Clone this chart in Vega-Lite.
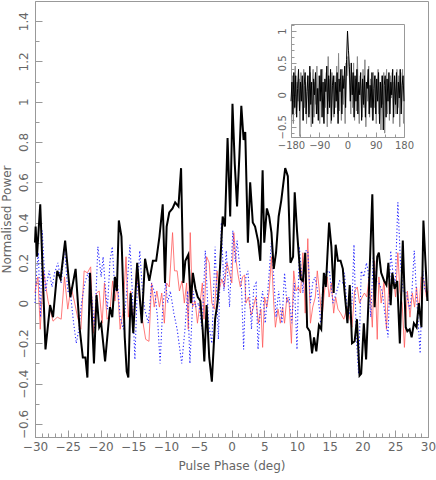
{
"$schema": "https://vega.github.io/schema/vega-lite/v6.json",
"width": 393, "height": 436,
"autosize": {"type": "none"},
"padding": {"left": 35, "top": 1, "right": 8, "bottom": 43},
"background": "white",
"config": {
 "view": {"stroke": "#999", "strokeWidth": 1},
 "axis": {"grid": false, "domainColor": "#999", "tickColor": "#999", "labelColor": "#666", "titleColor": "#666", "labelFont": "DejaVu Sans", "titleFont": "DejaVu Sans", "titleFontWeight": "normal", "labelFontSize": 12, "titleFontSize": 12, "labelFlush": false, "labelOverlap": false}
},
"datasets": {
"main": [
{"s":"black","x":-30.0,"y":0.30},{"s":"black","x":-29.9,"y":0.38},{"s":"black","x":-29.7,"y":0.23},{"s":"black","x":-29.2,"y":0.49},{"s":"black","x":-28.4,"y":-0.23},{"s":"black","x":-27.7,"y":-0.01},{"s":"black","x":-27.25,"y":-0.07},{"s":"black","x":-26.6,"y":0.16},{"s":"black","x":-26.1,"y":0.12},{"s":"black","x":-25.4,"y":0.31},{"s":"black","x":-24.6,"y":0.03},{"s":"black","x":-23.8,"y":0.17},{"s":"black","x":-23.2,"y":-0.12},{"s":"black","x":-22.7,"y":-0.27},{"s":"black","x":-22.3,"y":-0.27},{"s":"black","x":-22.0,"y":-0.37},{"s":"black","x":-21.6,"y":0.15},{"s":"black","x":-21.0,"y":-0.30},{"s":"black","x":-20.6,"y":0.04},{"s":"black","x":-20.2,"y":-0.12},{"s":"black","x":-19.9,"y":-0.10},{"s":"black","x":-19.3,"y":-0.29},{"s":"black","x":-18.55,"y":-0.02},{"s":"black","x":-18.2,"y":-0.07},{"s":"black","x":-17.8,"y":0.13},{"s":"black","x":-17.5,"y":0.06},{"s":"black","x":-17.2,"y":0.41},{"s":"black","x":-16.8,"y":0.33},{"s":"black","x":-16.3,"y":-0.17},{"s":"black","x":-16.0,"y":-0.34},{"s":"black","x":-15.75,"y":-0.37},{"s":"black","x":-15.4,"y":0.05},{"s":"black","x":-15.0,"y":-0.15},{"s":"black","x":-14.4,"y":0.20},{"s":"black","x":-13.7,"y":-0.10},{"s":"black","x":-13.2,"y":0.22},{"s":"black","x":-12.55,"y":0.11},{"s":"black","x":-12.0,"y":0.21},{"s":"black","x":-11.5,"y":0.21},{"s":"black","x":-11.0,"y":0.33},{"s":"black","x":-10.5,"y":0.49},{"s":"black","x":-10.15,"y":0.10},{"s":"black","x":-9.9,"y":0.38},{"s":"black","x":-9.5,"y":0.45},{"s":"black","x":-9.0,"y":0.47},{"s":"black","x":-8.6,"y":0.50},{"s":"black","x":-8.1,"y":0.48},{"s":"black","x":-7.7,"y":0.67},{"s":"black","x":-7.35,"y":0.10},{"s":"black","x":-7.05,"y":0.21},{"s":"black","x":-6.6,"y":0.24},{"s":"black","x":-6.2,"y":0.0},{"s":"black","x":-5.9,"y":0.15},{"s":"black","x":-5.5,"y":0.07},{"s":"black","x":-5.15,"y":0.03},{"s":"black","x":-4.75,"y":0.01},{"s":"black","x":-4.4,"y":-0.13},{"s":"black","x":-4.15,"y":-0.29},{"s":"black","x":-3.8,"y":-0.01},{"s":"black","x":-3.4,"y":-0.27},{"s":"black","x":-3.0,"y":-0.39},{"s":"black","x":-2.5,"y":-0.08},{"s":"black","x":-2.1,"y":0.01},{"s":"black","x":-1.75,"y":0.18},{"s":"black","x":-1.35,"y":0.43},{"s":"black","x":-1.0,"y":0.38},{"s":"black","x":-0.6,"y":0.82},{"s":"black","x":-0.2,"y":0.43},{"s":"black","x":0.15,"y":0.99},{"s":"black","x":0.5,"y":0.69},{"s":"black","x":0.85,"y":0.48},{"s":"black","x":1.2,"y":0.73},{"s":"black","x":1.5,"y":0.98},{"s":"black","x":1.85,"y":0.81},{"s":"black","x":2.1,"y":0.85},{"s":"black","x":2.5,"y":0.30},{"s":"black","x":2.85,"y":0.60},{"s":"black","x":3.25,"y":0.40},{"s":"black","x":3.6,"y":0.38},{"s":"black","x":4.05,"y":0.31},{"s":"black","x":4.4,"y":0.21},{"s":"black","x":4.75,"y":0.66},{"s":"black","x":5.0,"y":0.30},{"s":"black","x":5.4,"y":0.47},{"s":"black","x":5.75,"y":0.43},{"s":"black","x":6.1,"y":0.35},{"s":"black","x":6.45,"y":0.17},{"s":"black","x":6.8,"y":0.25},{"s":"black","x":7.2,"y":0.43},{"s":"black","x":7.6,"y":0.51},{"s":"black","x":8.2,"y":0.67},{"s":"black","x":8.6,"y":0.63},{"s":"black","x":9.0,"y":0.20},{"s":"black","x":9.4,"y":0.23},{"s":"black","x":9.65,"y":0.55},{"s":"black","x":10.0,"y":0.36},{"s":"black","x":10.55,"y":0.12},{"s":"black","x":10.9,"y":0.11},{"s":"black","x":11.25,"y":0.25},{"s":"black","x":11.55,"y":-0.12},{"s":"black","x":11.95,"y":-0.14},{"s":"black","x":12.3,"y":-0.25},{"s":"black","x":12.6,"y":-0.17},{"s":"black","x":12.95,"y":-0.24},{"s":"black","x":13.35,"y":-0.11},{"s":"black","x":13.7,"y":-0.13},{"s":"black","x":14.1,"y":0.15},{"s":"black","x":14.4,"y":0.08},{"s":"black","x":14.9,"y":0.40},{"s":"black","x":15.25,"y":0.28},{"s":"black","x":15.6,"y":0.05},{"s":"black","x":15.9,"y":0.29},{"s":"black","x":16.25,"y":0.21},{"s":"black","x":16.65,"y":0.21},{"s":"black","x":17.0,"y":0.17},{"s":"black","x":17.25,"y":0.06},{"s":"black","x":17.7,"y":-0.10},{"s":"black","x":18.05,"y":0.09},{"s":"black","x":18.4,"y":-0.20},{"s":"black","x":18.8,"y":-0.19},{"s":"black","x":19.15,"y":-0.08},{"s":"black","x":19.55,"y":-0.36},{"s":"black","x":19.8,"y":-0.35},{"s":"black","x":20.2,"y":-0.10},{"s":"black","x":20.55,"y":-0.28},{"s":"black","x":21.0,"y":0.08},{"s":"black","x":21.5,"y":0.54},{"s":"black","x":21.85,"y":-0.02},{"s":"black","x":22.25,"y":0.23},{"s":"black","x":22.5,"y":0.25},{"s":"black","x":22.85,"y":0.15},{"s":"black","x":23.3,"y":0.11},{"s":"black","x":23.65,"y":0.09},{"s":"black","x":23.95,"y":0.20},{"s":"black","x":24.3,"y":-0.01},{"s":"black","x":24.55,"y":0.15},{"s":"black","x":24.9,"y":0.07},{"s":"black","x":25.3,"y":0.11},{"s":"black","x":25.7,"y":-0.20},{"s":"black","x":26.15,"y":0.31},{"s":"black","x":26.6,"y":-0.12},{"s":"black","x":26.85,"y":-0.14},{"s":"black","x":27.2,"y":-0.13},{"s":"black","x":27.5,"y":-0.17},{"s":"black","x":27.85,"y":-0.10},{"s":"black","x":28.25,"y":-0.12},{"s":"black","x":28.6,"y":0.0},{"s":"black","x":29.0,"y":-0.12},{"s":"black","x":29.3,"y":0.41},{"s":"black","x":29.65,"y":0.18},{"s":"black","x":29.9,"y":0.01},
{"s":"red","x":-30.0,"y":0.05},{"s":"red","x":-29.9,"y":0.08},{"s":"red","x":-29.55,"y":0.13},{"s":"red","x":-29.2,"y":-0.13},{"s":"red","x":-28.7,"y":0.16},{"s":"red","x":-28.0,"y":0.01},{"s":"red","x":-27.25,"y":-0.09},{"s":"red","x":-26.6,"y":-0.07},{"s":"red","x":-26.0,"y":-0.08},{"s":"red","x":-25.5,"y":0.13},{"s":"red","x":-25.0,"y":-0.03},{"s":"red","x":-24.5,"y":0.08},{"s":"red","x":-24.0,"y":0.01},{"s":"red","x":-23.5,"y":-0.07},{"s":"red","x":-23.0,"y":-0.13},{"s":"red","x":-22.5,"y":0.16},{"s":"red","x":-22.0,"y":0.15},{"s":"red","x":-21.5,"y":0.18},{"s":"red","x":-21.1,"y":-0.15},{"s":"red","x":-20.6,"y":0.05},{"s":"red","x":-20.2,"y":0.06},{"s":"red","x":-19.75,"y":-0.10},{"s":"red","x":-19.4,"y":0.10},{"s":"red","x":-19.0,"y":-0.08},{"s":"red","x":-18.6,"y":-0.06},{"s":"red","x":-18.15,"y":0.11},{"s":"red","x":-17.8,"y":0.01},{"s":"red","x":-17.45,"y":0.10},{"s":"red","x":-17.0,"y":-0.13},{"s":"red","x":-16.6,"y":-0.05},{"s":"red","x":-16.1,"y":0.23},{"s":"red","x":-15.75,"y":-0.07},{"s":"red","x":-15.4,"y":0.06},{"s":"red","x":-15.0,"y":-0.11},{"s":"red","x":-14.5,"y":0.17},{"s":"red","x":-14.1,"y":0.03},{"s":"red","x":-13.6,"y":-0.08},{"s":"red","x":-13.1,"y":-0.18},{"s":"red","x":-12.6,"y":-0.19},{"s":"red","x":-12.2,"y":0.10},{"s":"red","x":-11.8,"y":-0.02},{"s":"red","x":-11.4,"y":0.06},{"s":"red","x":-11.0,"y":-0.02},{"s":"red","x":-10.65,"y":0.05},{"s":"red","x":-10.25,"y":-0.10},{"s":"red","x":-9.9,"y":0.10},{"s":"red","x":-9.5,"y":0.08},{"s":"red","x":-9.0,"y":0.35},{"s":"red","x":-8.7,"y":0.16},{"s":"red","x":-8.3,"y":0.16},{"s":"red","x":-7.95,"y":0.06},{"s":"red","x":-7.55,"y":0.11},{"s":"red","x":-7.2,"y":0.0},{"s":"red","x":-6.85,"y":0.10},{"s":"red","x":-6.6,"y":-0.13},{"s":"red","x":-6.3,"y":0.35},{"s":"red","x":-5.95,"y":-0.02},{"s":"red","x":-5.55,"y":0.01},{"s":"red","x":-5.2,"y":-0.10},{"s":"red","x":-4.8,"y":0.0},{"s":"red","x":-4.45,"y":0.10},{"s":"red","x":-4.2,"y":-0.08},{"s":"red","x":-3.8,"y":0.23},{"s":"red","x":-3.4,"y":0.20},{"s":"red","x":-3.0,"y":0.0},{"s":"red","x":-2.6,"y":-0.03},{"s":"red","x":-2.2,"y":0.16},{"s":"red","x":-1.9,"y":0.06},{"s":"red","x":-1.5,"y":0.12},{"s":"red","x":-1.1,"y":0.08},{"s":"red","x":-0.7,"y":0.20},{"s":"red","x":-0.3,"y":0.15},{"s":"red","x":0.05,"y":0.10},{"s":"red","x":0.35,"y":0.35},{"s":"red","x":0.7,"y":0.21},{"s":"red","x":1.0,"y":0.14},{"s":"red","x":1.35,"y":0.08},{"s":"red","x":1.7,"y":0.13},{"s":"red","x":2.0,"y":0.14},{"s":"red","x":2.2,"y":0.0},{"s":"red","x":2.6,"y":0.03},{"s":"red","x":3.0,"y":-0.06},{"s":"red","x":3.35,"y":-0.02},{"s":"red","x":3.7,"y":0.03},{"s":"red","x":4.1,"y":-0.10},{"s":"red","x":4.5,"y":-0.03},{"s":"red","x":4.75,"y":-0.22},{"s":"red","x":5.05,"y":0.03},{"s":"red","x":5.4,"y":-0.02},{"s":"red","x":5.75,"y":0.06},{"s":"red","x":6.1,"y":0.23},{"s":"red","x":6.45,"y":0.0},{"s":"red","x":6.7,"y":-0.12},{"s":"red","x":7.1,"y":-0.03},{"s":"red","x":7.45,"y":-0.10},{"s":"red","x":7.8,"y":-0.02},{"s":"red","x":8.1,"y":-0.10},{"s":"red","x":8.45,"y":0.03},{"s":"red","x":8.8,"y":0.0},{"s":"red","x":9.15,"y":-0.20},{"s":"red","x":9.5,"y":0.16},{"s":"red","x":9.85,"y":0.06},{"s":"red","x":10.2,"y":0.08},{"s":"red","x":10.55,"y":0.05},{"s":"red","x":10.9,"y":0.25},{"s":"red","x":11.25,"y":-0.05},{"s":"red","x":11.65,"y":0.32},{"s":"red","x":12.05,"y":-0.10},{"s":"red","x":12.4,"y":-0.02},{"s":"red","x":12.8,"y":0.03},{"s":"red","x":13.1,"y":0.16},{"s":"red","x":13.45,"y":0.05},{"s":"red","x":13.8,"y":-0.08},{"s":"red","x":14.2,"y":0.06},{"s":"red","x":14.6,"y":0.13},{"s":"red","x":14.9,"y":0.03},{"s":"red","x":15.25,"y":0.10},{"s":"red","x":15.6,"y":-0.05},{"s":"red","x":15.9,"y":0.03},{"s":"red","x":16.25,"y":-0.03},{"s":"red","x":16.65,"y":-0.05},{"s":"red","x":17.15,"y":-0.08},{"s":"red","x":17.65,"y":-0.02},{"s":"red","x":18.0,"y":-0.07},{"s":"red","x":18.4,"y":-0.12},{"s":"red","x":18.8,"y":0.06},{"s":"red","x":19.2,"y":0.08},{"s":"red","x":19.55,"y":0.0},{"s":"red","x":19.95,"y":0.03},{"s":"red","x":20.3,"y":0.05},{"s":"red","x":20.65,"y":0.03},{"s":"red","x":21.0,"y":0.13},{"s":"red","x":21.5,"y":-0.12},{"s":"red","x":21.85,"y":0.21},{"s":"red","x":22.25,"y":-0.18},{"s":"red","x":22.5,"y":0.13},{"s":"red","x":22.85,"y":0.0},{"s":"red","x":23.3,"y":0.11},{"s":"red","x":23.65,"y":-0.13},{"s":"red","x":24.05,"y":0.10},{"s":"red","x":24.4,"y":0.08},{"s":"red","x":24.8,"y":0.10},{"s":"red","x":25.05,"y":0.03},{"s":"red","x":25.4,"y":0.25},{"s":"red","x":25.7,"y":0.06},{"s":"red","x":26.05,"y":0.0},{"s":"red","x":26.4,"y":-0.22},{"s":"red","x":26.85,"y":0.06},{"s":"red","x":27.25,"y":-0.07},{"s":"red","x":27.6,"y":0.05},{"s":"red","x":27.95,"y":-0.02},{"s":"red","x":28.25,"y":0.08},{"s":"red","x":28.6,"y":-0.05},{"s":"red","x":28.95,"y":0.13},{"s":"red","x":29.4,"y":0.11},{"s":"red","x":29.75,"y":0.03},{"s":"red","x":30.0,"y":0.06},
{"s":"blue","x":-30.0,"y":0.0},{"s":"blue","x":-29.7,"y":0.18},{"s":"blue","x":-29.5,"y":0.25},{"s":"blue","x":-29.15,"y":-0.07},{"s":"blue","x":-28.9,"y":0.36},{"s":"blue","x":-28.4,"y":0.06},{"s":"blue","x":-27.85,"y":0.16},{"s":"blue","x":-27.4,"y":0.08},{"s":"blue","x":-27.0,"y":0.15},{"s":"blue","x":-26.5,"y":0.20},{"s":"blue","x":-26.0,"y":0.10},{"s":"blue","x":-25.5,"y":0.28},{"s":"blue","x":-25.0,"y":0.06},{"s":"blue","x":-24.6,"y":0.05},{"s":"blue","x":-24.1,"y":-0.10},{"s":"blue","x":-23.7,"y":-0.20},{"s":"blue","x":-23.3,"y":-0.13},{"s":"blue","x":-22.9,"y":0.0},{"s":"blue","x":-22.4,"y":0.10},{"s":"blue","x":-21.9,"y":0.15},{"s":"blue","x":-21.4,"y":0.05},{"s":"blue","x":-20.9,"y":-0.13},{"s":"blue","x":-20.4,"y":0.28},{"s":"blue","x":-19.9,"y":0.13},{"s":"blue","x":-19.6,"y":0.23},{"s":"blue","x":-19.2,"y":0.05},{"s":"blue","x":-18.95,"y":-0.03},{"s":"blue","x":-18.55,"y":0.21},{"s":"blue","x":-18.2,"y":0.28},{"s":"blue","x":-17.8,"y":0.06},{"s":"blue","x":-17.4,"y":0.10},{"s":"blue","x":-17.0,"y":-0.07},{"s":"blue","x":-16.5,"y":-0.13},{"s":"blue","x":-16.0,"y":0.06},{"s":"blue","x":-15.5,"y":0.29},{"s":"blue","x":-15.15,"y":0.06},{"s":"blue","x":-14.75,"y":-0.28},{"s":"blue","x":-14.4,"y":0.06},{"s":"blue","x":-14.0,"y":0.26},{"s":"blue","x":-13.6,"y":0.06},{"s":"blue","x":-13.25,"y":-0.03},{"s":"blue","x":-12.7,"y":-0.10},{"s":"blue","x":-12.2,"y":0.10},{"s":"blue","x":-11.7,"y":0.05},{"s":"blue","x":-11.3,"y":-0.07},{"s":"blue","x":-10.9,"y":-0.30},{"s":"blue","x":-10.5,"y":-0.02},{"s":"blue","x":-10.05,"y":0.10},{"s":"blue","x":-9.75,"y":0.0},{"s":"blue","x":-9.35,"y":0.06},{"s":"blue","x":-8.8,"y":-0.05},{"s":"blue","x":-8.3,"y":-0.13},{"s":"blue","x":-7.6,"y":-0.30},{"s":"blue","x":-7.1,"y":-0.13},{"s":"blue","x":-6.7,"y":0.06},{"s":"blue","x":-6.35,"y":-0.30},{"s":"blue","x":-5.85,"y":0.06},{"s":"blue","x":-5.5,"y":-0.02},{"s":"blue","x":-5.0,"y":0.0},{"s":"blue","x":-4.5,"y":-0.13},{"s":"blue","x":-4.0,"y":0.26},{"s":"blue","x":-3.5,"y":-0.10},{"s":"blue","x":-3.0,"y":-0.20},{"s":"blue","x":-2.5,"y":0.28},{"s":"blue","x":-2.0,"y":-0.18},{"s":"blue","x":-1.55,"y":0.40},{"s":"blue","x":-1.15,"y":0.06},{"s":"blue","x":-0.8,"y":0.26},{"s":"blue","x":-0.3,"y":-0.02},{"s":"blue","x":0.2,"y":0.36},{"s":"blue","x":0.6,"y":0.20},{"s":"blue","x":0.85,"y":0.31},{"s":"blue","x":1.2,"y":0.20},{"s":"blue","x":1.55,"y":0.06},{"s":"blue","x":1.85,"y":-0.23},{"s":"blue","x":2.2,"y":0.13},{"s":"blue","x":2.5,"y":0.16},{"s":"blue","x":2.75,"y":0.05},{"s":"blue","x":3.05,"y":-0.13},{"s":"blue","x":3.4,"y":0.08},{"s":"blue","x":3.75,"y":0.10},{"s":"blue","x":4.05,"y":-0.23},{"s":"blue","x":4.4,"y":-0.02},{"s":"blue","x":4.75,"y":0.06},{"s":"blue","x":5.15,"y":-0.10},{"s":"blue","x":5.55,"y":0.06},{"s":"blue","x":6.1,"y":0.31},{"s":"blue","x":6.45,"y":0.13},{"s":"blue","x":6.8,"y":-0.07},{"s":"blue","x":7.2,"y":0.06},{"s":"blue","x":7.7,"y":-0.10},{"s":"blue","x":8.1,"y":0.15},{"s":"blue","x":8.45,"y":0.0},{"s":"blue","x":8.8,"y":0.03},{"s":"blue","x":9.2,"y":-0.10},{"s":"blue","x":9.6,"y":0.10},{"s":"blue","x":10.0,"y":-0.23},{"s":"blue","x":10.35,"y":0.28},{"s":"blue","x":10.6,"y":0.18},{"s":"blue","x":10.9,"y":0.05},{"s":"blue","x":11.25,"y":0.26},{"s":"blue","x":11.65,"y":0.26},{"s":"blue","x":12.05,"y":0.0},{"s":"blue","x":12.4,"y":0.10},{"s":"blue","x":12.75,"y":0.13},{"s":"blue","x":13.2,"y":0.05},{"s":"blue","x":13.6,"y":-0.10},{"s":"blue","x":13.95,"y":0.08},{"s":"blue","x":14.45,"y":0.15},{"s":"blue","x":14.95,"y":0.16},{"s":"blue","x":15.5,"y":0.0},{"s":"blue","x":16.0,"y":0.05},{"s":"blue","x":16.5,"y":0.11},{"s":"blue","x":17.0,"y":0.10},{"s":"blue","x":17.25,"y":0.15},{"s":"blue","x":17.65,"y":-0.03},{"s":"blue","x":18.0,"y":-0.05},{"s":"blue","x":18.4,"y":0.0},{"s":"blue","x":18.7,"y":0.29},{"s":"blue","x":19.05,"y":-0.17},{"s":"blue","x":19.4,"y":-0.35},{"s":"blue","x":19.8,"y":0.16},{"s":"blue","x":20.2,"y":0.13},{"s":"blue","x":20.6,"y":0.20},{"s":"blue","x":20.85,"y":0.16},{"s":"blue","x":21.25,"y":-0.07},{"s":"blue","x":21.65,"y":0.23},{"s":"blue","x":22.0,"y":0.11},{"s":"blue","x":22.5,"y":0.10},{"s":"blue","x":23.0,"y":0.06},{"s":"blue","x":23.4,"y":-0.05},{"s":"blue","x":23.9,"y":-0.17},{"s":"blue","x":24.3,"y":0.26},{"s":"blue","x":24.7,"y":0.13},{"s":"blue","x":25.0,"y":0.10},{"s":"blue","x":25.4,"y":0.50},{"s":"blue","x":25.8,"y":0.20},{"s":"blue","x":26.2,"y":0.06},{"s":"blue","x":26.7,"y":0.05},{"s":"blue","x":27.2,"y":-0.03},{"s":"blue","x":27.55,"y":0.06},{"s":"blue","x":27.9,"y":0.26},{"s":"blue","x":28.3,"y":0.01},{"s":"blue","x":28.8,"y":-0.25},{"s":"blue","x":29.2,"y":0.16},{"s":"blue","x":29.55,"y":0.06},{"s":"blue","x":29.9,"y":0.06}
],
"inset": [
{"s":"black","x":-180,"y":-0.1},{"s":"black","x":-177,"y":0.2},{"s":"black","x":-174,"y":-0.3},{"s":"black","x":-171,"y":0.35},{"s":"black","x":-168,"y":-0.2},{"s":"black","x":-165,"y":0.3},{"s":"black","x":-162,"y":-0.35},{"s":"black","x":-159,"y":0.1},{"s":"black","x":-156,"y":0.4},{"s":"black","x":-153,"y":-0.25},{"s":"black","x":-150,"y":0.2},{"s":"black","x":-147,"y":-0.1},{"s":"black","x":-144,"y":0.3},{"s":"black","x":-141,"y":-0.4},{"s":"black","x":-138,"y":0.15},{"s":"black","x":-135,"y":0.35},{"s":"black","x":-132,"y":-0.3},{"s":"black","x":-129,"y":0.05},{"s":"black","x":-126,"y":0.3},{"s":"black","x":-123,"y":-0.35},{"s":"black","x":-120,"y":0.45},{"s":"black","x":-117,"y":-0.15},{"s":"black","x":-114,"y":0.2},{"s":"black","x":-111,"y":-0.45},{"s":"black","x":-108,"y":0.25},{"s":"black","x":-105,"y":0.0},{"s":"black","x":-102,"y":0.35},{"s":"black","x":-99,"y":-0.3},{"s":"black","x":-96,"y":0.1},{"s":"black","x":-93,"y":-0.4},{"s":"black","x":-90,"y":0.3},{"s":"black","x":-87,"y":-0.1},{"s":"black","x":-84,"y":0.4},{"s":"black","x":-81,"y":-0.35},{"s":"black","x":-78,"y":0.2},{"s":"black","x":-75,"y":-0.45},{"s":"black","x":-72,"y":0.25},{"s":"black","x":-69,"y":0.05},{"s":"black","x":-66,"y":0.45},{"s":"black","x":-63,"y":-0.3},{"s":"black","x":-60,"y":0.3},{"s":"black","x":-57,"y":-0.2},{"s":"black","x":-54,"y":0.4},{"s":"black","x":-51,"y":-0.4},{"s":"black","x":-48,"y":0.15},{"s":"black","x":-45,"y":0.3},{"s":"black","x":-42,"y":-0.3},{"s":"black","x":-39,"y":0.2},{"s":"black","x":-36,"y":-0.1},{"s":"black","x":-33,"y":0.35},{"s":"black","x":-30,"y":-0.45},{"s":"black","x":-27,"y":0.25},{"s":"black","x":-24,"y":0.05},{"s":"black","x":-21,"y":0.4},{"s":"black","x":-18,"y":-0.3},{"s":"black","x":-15,"y":0.3},{"s":"black","x":-12,"y":0.1},{"s":"black","x":-9,"y":0.45},{"s":"black","x":-6,"y":-0.2},{"s":"black","x":-3,"y":0.55},{"s":"black","x":0,"y":1.0},{"s":"black","x":3,"y":0.7},{"s":"black","x":6,"y":0.45},{"s":"black","x":9,"y":-0.1},{"s":"black","x":12,"y":0.5},{"s":"black","x":15,"y":0.0},{"s":"black","x":18,"y":0.35},{"s":"black","x":21,"y":-0.35},{"s":"black","x":24,"y":0.3},{"s":"black","x":27,"y":-0.1},{"s":"black","x":30,"y":0.4},{"s":"black","x":33,"y":-0.3},{"s":"black","x":36,"y":0.2},{"s":"black","x":39,"y":0.0},{"s":"black","x":42,"y":0.35},{"s":"black","x":45,"y":-0.4},{"s":"black","x":48,"y":0.25},{"s":"black","x":51,"y":-0.15},{"s":"black","x":54,"y":0.3},{"s":"black","x":57,"y":-0.35},{"s":"black","x":60,"y":0.2},{"s":"black","x":63,"y":0.1},{"s":"black","x":66,"y":0.4},{"s":"black","x":69,"y":-0.3},{"s":"black","x":72,"y":0.15},{"s":"black","x":75,"y":-0.2},{"s":"black","x":78,"y":0.35},{"s":"black","x":81,"y":-0.4},{"s":"black","x":84,"y":0.1},{"s":"black","x":87,"y":0.3},{"s":"black","x":90,"y":-0.3},{"s":"black","x":93,"y":0.25},{"s":"black","x":96,"y":-0.1},{"s":"black","x":99,"y":0.35},{"s":"black","x":102,"y":-0.45},{"s":"black","x":105,"y":0.2},{"s":"black","x":108,"y":-0.2},{"s":"black","x":111,"y":0.3},{"s":"black","x":114,"y":-0.55},{"s":"black","x":117,"y":0.15},{"s":"black","x":120,"y":0.3},{"s":"black","x":123,"y":-0.35},{"s":"black","x":126,"y":0.25},{"s":"black","x":129,"y":-0.1},{"s":"black","x":132,"y":0.35},{"s":"black","x":135,"y":-0.3},{"s":"black","x":138,"y":0.2},{"s":"black","x":141,"y":0.0},{"s":"black","x":144,"y":0.4},{"s":"black","x":147,"y":-0.35},{"s":"black","x":150,"y":0.3},{"s":"black","x":153,"y":-0.15},{"s":"black","x":156,"y":0.35},{"s":"black","x":159,"y":-0.3},{"s":"black","x":162,"y":0.2},{"s":"black","x":165,"y":-0.05},{"s":"black","x":168,"y":0.4},{"s":"black","x":171,"y":-0.3},{"s":"black","x":174,"y":0.15},{"s":"black","x":177,"y":0.3},{"s":"black","x":180,"y":-0.1},
{"s":"grey","x":-178.5,"y":-0.35},{"s":"grey","x":-175.5,"y":0.3},{"s":"grey","x":-172.5,"y":-0.45},{"s":"grey","x":-169.5,"y":0.1},{"s":"grey","x":-166.5,"y":0.45},{"s":"grey","x":-163.5,"y":-0.3},{"s":"grey","x":-160.5,"y":0.2},{"s":"grey","x":-157.5,"y":-0.1},{"s":"grey","x":-154.5,"y":0.25},{"s":"grey","x":-151.5,"y":-0.65},{"s":"grey","x":-148.5,"y":0.35},{"s":"grey","x":-145.5,"y":0.0},{"s":"grey","x":-142.5,"y":-0.4},{"s":"grey","x":-139.5,"y":0.4},{"s":"grey","x":-136.5,"y":-0.2},{"s":"grey","x":-133.5,"y":0.2},{"s":"grey","x":-130.5,"y":-0.45},{"s":"grey","x":-127.5,"y":0.3},{"s":"grey","x":-124.5,"y":0.1},{"s":"grey","x":-121.5,"y":-0.3},{"s":"grey","x":-118.5,"y":0.35},{"s":"grey","x":-115.5,"y":-0.5},{"s":"grey","x":-112.5,"y":0.15},{"s":"grey","x":-109.5,"y":0.4},{"s":"grey","x":-106.5,"y":-0.35},{"s":"grey","x":-103.5,"y":0.2},{"s":"grey","x":-100.5,"y":-0.15},{"s":"grey","x":-97.5,"y":0.45},{"s":"grey","x":-94.5,"y":-0.3},{"s":"grey","x":-91.5,"y":0.1},{"s":"grey","x":-88.5,"y":-0.45},{"s":"grey","x":-85.5,"y":0.3},{"s":"grey","x":-82.5,"y":0.05},{"s":"grey","x":-79.5,"y":0.4},{"s":"grey","x":-76.5,"y":-0.4},{"s":"grey","x":-73.5,"y":0.2},{"s":"grey","x":-70.5,"y":-0.2},{"s":"grey","x":-67.5,"y":0.35},{"s":"grey","x":-64.5,"y":-0.5},{"s":"grey","x":-61.5,"y":0.6},{"s":"grey","x":-58.5,"y":-0.1},{"s":"grey","x":-55.5,"y":0.25},{"s":"grey","x":-52.5,"y":-0.45},{"s":"grey","x":-49.5,"y":0.35},{"s":"grey","x":-46.5,"y":0.0},{"s":"grey","x":-43.5,"y":-0.35},{"s":"grey","x":-40.5,"y":0.3},{"s":"grey","x":-37.5,"y":-0.2},{"s":"grey","x":-34.5,"y":0.45},{"s":"grey","x":-31.5,"y":-0.3},{"s":"grey","x":-28.5,"y":0.65},{"s":"grey","x":-25.5,"y":-0.25},{"s":"grey","x":-22.5,"y":0.2},{"s":"grey","x":-19.5,"y":-0.4},{"s":"grey","x":-16.5,"y":0.4},{"s":"grey","x":-13.5,"y":-0.15},{"s":"grey","x":-10.5,"y":0.25},{"s":"grey","x":-7.5,"y":-0.45},{"s":"grey","x":-4.5,"y":0.5},{"s":"grey","x":-1.5,"y":0.3},{"s":"grey","x":1.5,"y":0.6},{"s":"grey","x":4.5,"y":0.4},{"s":"grey","x":7.5,"y":0.15},{"s":"grey","x":10.5,"y":-0.3},{"s":"grey","x":13.5,"y":0.3},{"s":"grey","x":16.5,"y":-0.2},{"s":"grey","x":19.5,"y":0.5},{"s":"grey","x":22.5,"y":-0.4},{"s":"grey","x":25.5,"y":0.25},{"s":"grey","x":28.5,"y":-0.25},{"s":"grey","x":31.5,"y":0.6},{"s":"grey","x":34.5,"y":-0.1},{"s":"grey","x":37.5,"y":-0.45},{"s":"grey","x":40.5,"y":0.3},{"s":"grey","x":43.5,"y":0.1},{"s":"grey","x":46.5,"y":-0.35},{"s":"grey","x":49.5,"y":0.4},{"s":"grey","x":52.5,"y":-0.2},{"s":"grey","x":55.5,"y":0.55},{"s":"grey","x":58.5,"y":-0.5},{"s":"grey","x":61.5,"y":0.2},{"s":"grey","x":64.5,"y":-0.1},{"s":"grey","x":67.5,"y":0.45},{"s":"grey","x":70.5,"y":-0.35},{"s":"grey","x":73.5,"y":0.25},{"s":"grey","x":76.5,"y":0.0},{"s":"grey","x":79.5,"y":-0.4},{"s":"grey","x":82.5,"y":0.35},{"s":"grey","x":85.5,"y":-0.2},{"s":"grey","x":88.5,"y":0.3},{"s":"grey","x":91.5,"y":-0.45},{"s":"grey","x":94.5,"y":0.15},{"s":"grey","x":97.5,"y":0.4},{"s":"grey","x":100.5,"y":-0.3},{"s":"grey","x":103.5,"y":0.2},{"s":"grey","x":106.5,"y":-0.55},{"s":"grey","x":109.5,"y":0.3},{"s":"grey","x":112.5,"y":-0.15},{"s":"grey","x":115.5,"y":0.35},{"s":"grey","x":118.5,"y":-0.6},{"s":"grey","x":121.5,"y":0.1},{"s":"grey","x":124.5,"y":0.4},{"s":"grey","x":127.5,"y":-0.3},{"s":"grey","x":130.5,"y":0.25},{"s":"grey","x":133.5,"y":-0.4},{"s":"grey","x":136.5,"y":0.3},{"s":"grey","x":139.5,"y":-0.05},{"s":"grey","x":142.5,"y":0.35},{"s":"grey","x":145.5,"y":-0.45},{"s":"grey","x":148.5,"y":0.2},{"s":"grey","x":151.5,"y":0.05},{"s":"grey","x":154.5,"y":-0.3},{"s":"grey","x":157.5,"y":0.4},{"s":"grey","x":160.5,"y":-0.2},{"s":"grey","x":163.5,"y":0.3},{"s":"grey","x":166.5,"y":-0.5},{"s":"grey","x":169.5,"y":0.35},{"s":"grey","x":172.5,"y":-0.1},{"s":"grey","x":175.5,"y":0.4},{"s":"grey","x":178.5,"y":-0.45}
]
},
"layer": [
 {
  "data": {"name": "main"},
  "layer": [
   {
    "transform": [{"filter": "datum.s === 'red'"}],
    "mark": {"type": "line", "color": "#ff5a5a", "strokeWidth": 1, "opacity": 0.8},
    "encoding": {
     "x": {"field": "x", "type": "quantitative", "scale": {"domain": [-30, 30], "nice": false, "zero": false},
       "axis": {"orient": "bottom", "values": [-30,-29,-28,-27,-26,-25,-24,-23,-22,-21,-20,-19,-18,-17,-16,-15,-14,-13,-12,-11,-10,-9,-8,-7,-6,-5,-4,-3,-2,-1,0,1,2,3,4,5,6,7,8,9,10,11,12,13,14,15,16,17,18,19,20,21,22,23,24,25,26,27,28,29,30], "labels": false, "tickSize": -4, "domain": false, "title": null}},
     "y": {"field": "y", "type": "quantitative", "scale": {"domain": [-0.665, 1.5], "nice": false, "zero": false},
       "axis": {"orient": "left", "values": [-0.6,-0.5,-0.4,-0.3,-0.2,-0.1,0,0.1,0.2,0.3,0.4,0.5,0.6,0.7,0.8,0.9,1,1.1,1.2,1.3,1.4], "labels": false, "tickSize": -4, "domain": false, "title": null}}
    }
   },
   {
    "transform": [{"filter": "datum.s === 'blue'"}],
    "mark": {"type": "line", "color": "#2828ff", "strokeWidth": 1.1, "strokeDash": [1.2, 2.2]},
    "encoding": {
     "x": {"field": "x", "type": "quantitative", "axis": null},
     "y": {"field": "y", "type": "quantitative", "axis": null}
    }
   },
   {
    "transform": [{"filter": "datum.s === 'black'"}],
    "mark": {"type": "line", "color": "#000000", "strokeWidth": 2},
    "encoding": {
     "x": {"field": "x", "type": "quantitative",
       "axis": {"orient": "bottom", "values": [-30,-25,-20,-15,-10,-5,0,5,10,15,20,25,30], "format": "~g", "tickSize": -7, "labelPadding": 11, "title": "Pulse Phase (deg)", "titlePadding": 8}},
     "y": {"field": "y", "type": "quantitative",
       "axis": {"orient": "left", "values": [-0.6,-0.4,-0.2,0,0.2,0.4,0.6,0.8,1,1.2,1.4], "format": "~g", "tickSize": -7, "labelPadding": 12, "labelAngle": -90, "labelAlign": "center", "labelBaseline": "bottom", "title": "Normalised Power", "titlePadding": 4}}
    }
   }
  ],
  "resolve": {"axis": {"x": "independent", "y": "independent"}}
 },
 {
  "data": {"name": "inset"},
  "layer": [
   {
    "transform": [{"filter": "datum.s === 'grey'"}],
    "mark": {"type": "line", "color": "#888888", "strokeWidth": 1},
    "encoding": {
     "x": {"field": "x", "type": "quantitative", "scale": {"domain": [-180, 180], "range": [256, 369], "nice": false, "zero": false},
       "axis": {"orient": "bottom", "offset": -300, "values": [-180,-90,0,90,180], "tickSize": -5, "labelPadding": 8, "labelFontSize": 10, "title": null}},
     "y": {"field": "y", "type": "quantitative", "scale": {"domain": [-0.66, 1.11], "range": [136, 23], "nice": false, "zero": false},
       "axis": {"orient": "left", "offset": -256, "values": [-0.5, 0, 0.5, 1], "format": "~g", "tickSize": -5, "labelPadding": 9, "labelFontSize": 10, "labelAngle": -90, "labelAlign": "center", "labelBaseline": "bottom", "title": null}}
    }
   },
   {
    "transform": [{"filter": "datum.s === 'black'"}],
    "mark": {"type": "line", "color": "#000000", "strokeWidth": 1},
    "encoding": {
     "x": {"field": "x", "type": "quantitative",
       "axis": {"orient": "bottom", "offset": -300, "values": [-150,-120,-60,-30,30,60,120,150], "labels": false, "domain": false, "tickSize": -3, "title": null}},
     "y": {"field": "y", "type": "quantitative",
       "axis": {"orient": "left", "offset": -256, "values": [-0.6,-0.4,-0.3,-0.2,-0.1,0.1,0.2,0.3,0.4,0.6,0.7,0.8,0.9,1.1], "labels": false, "domain": false, "tickSize": -3, "title": null}}
    }
   },
   {
    "transform": [{"filter": "datum.s === 'black'"}],
    "mark": {"type": "line", "opacity": 0},
    "encoding": {
     "x": {"field": "x", "type": "quantitative",
       "axis": {"orient": "top", "offset": -23, "ticks": false, "labels": false, "title": null}},
     "y": {"field": "y", "type": "quantitative",
       "axis": {"orient": "right", "offset": -24, "ticks": false, "labels": false, "title": null}}
    }
   }
  ],
  "resolve": {"axis": {"x": "independent", "y": "independent"}}
 }
],
"resolve": {"scale": {"x": "independent", "y": "independent"}}
}
